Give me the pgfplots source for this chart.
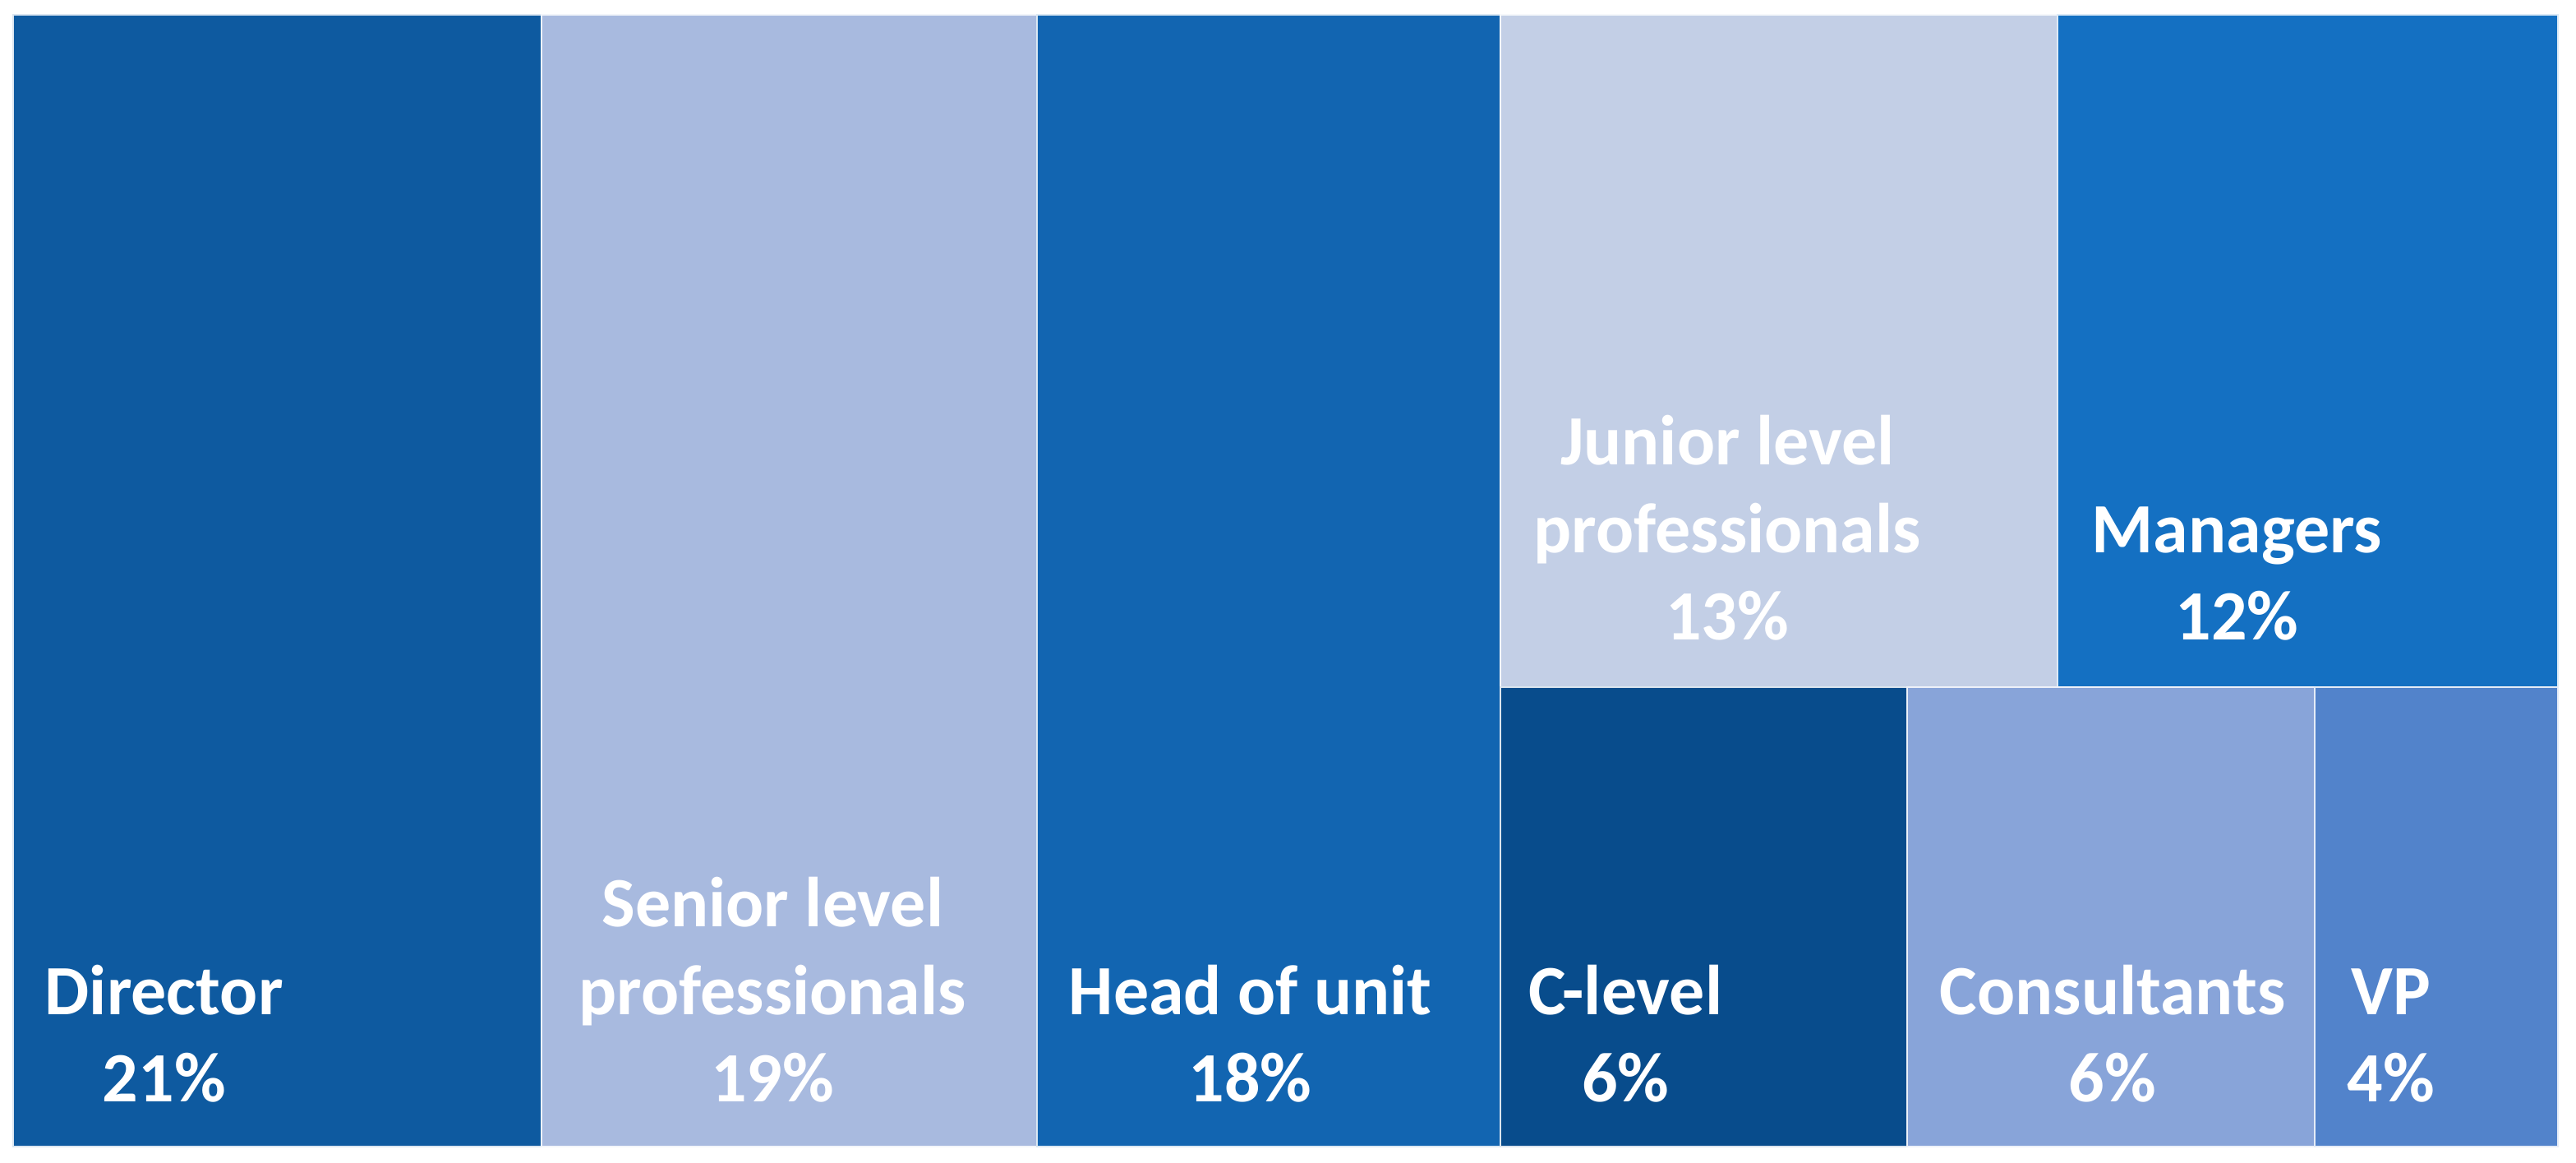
\documentclass[border=0pt]{standalone}
\usepackage{fontspec}
\setmainfont{Carlito}
\usepackage{pgfplots}
\pgfplotsset{compat=1.18}
\definecolor{cDir}{HTML}{0E5AA0}
\definecolor{cSen}{HTML}{A8BADF}
\definecolor{cHead}{HTML}{1265B1}
\definecolor{cJun}{HTML}{C3CFE6}
\definecolor{cMan}{HTML}{1470C2}
\definecolor{cCl}{HTML}{084C8C}
\definecolor{cCon}{HTML}{88A4D9}
\definecolor{cVP}{HTML}{5283CB}
\begin{document}
\begin{tikzpicture}
\begin{axis}[scale only axis, width=783.75bp, height=353.75bp,
   xmin=0, xmax=3135, ymin=0, ymax=1415, y dir=reverse, hide axis, clip=false]
\addplot[draw=none] coordinates {(0,0) (3135,1415)};
% treemap cells (pixel coordinates, y downwards)
\addplot[fill=cDir, draw=white!85!cDir, line width=0.5bp] coordinates {(16,18) (659,18) (659,1395) (16,1395)} --cycle;
\addplot[fill=cSen, draw=white!85!cSen, line width=0.5bp] coordinates {(659,18) (1262,18) (1262,1395) (659,1395)} --cycle;
\addplot[fill=cHead, draw=white!85!cHead, line width=0.5bp] coordinates {(1262,18) (1826,18) (1826,1395) (1262,1395)} --cycle;
\addplot[fill=cJun, draw=white!85!cJun, line width=0.5bp] coordinates {(1826,18) (2504,18) (2504,836) (1826,836)} --cycle;
\addplot[fill=cMan, draw=white!85!cMan, line width=0.5bp] coordinates {(2504,18) (3113,18) (3113,836) (2504,836)} --cycle;
\addplot[fill=cCl, draw=white!85!cCl, line width=0.5bp] coordinates {(1826,836) (2321,836) (2321,1395) (1826,1395)} --cycle;
\addplot[fill=cCon, draw=white!85!cCon, line width=0.5bp] coordinates {(2321,836) (2817,836) (2817,1395) (2321,1395)} --cycle;
\addplot[fill=cVP, draw=white!85!cVP, line width=0.5bp] coordinates {(2817,836) (3113,836) (3113,1395) (2817,1395)} --cycle;
\tikzset{lab/.style={anchor=south west, inner sep=0pt, align=center, text=white,
   font=\fontsize{21.5bp}{26.6bp}\selectfont\bfseries}}
\node[lab] at (axis cs:54,1342) {Director\\21\%};
\node[lab] at (axis cs:704,1342) {Senior level\\professionals\\19\%};
\node[lab] at (axis cs:1300,1342) {Head of unit\\18\%};
\node[lab] at (axis cs:1866,780) {Junior level\\professionals\\13\%};
\node[lab] at (axis cs:2545,780) {Managers\\12\%};
\node[lab] at (axis cs:1860,1342) {C-level\\6\%};
\node[lab] at (axis cs:2360,1342) {Consultants\\6\%};
\node[lab] at (axis cs:2856,1342) {VP\\4\%};
\end{axis}
\end{tikzpicture}
\end{document}
